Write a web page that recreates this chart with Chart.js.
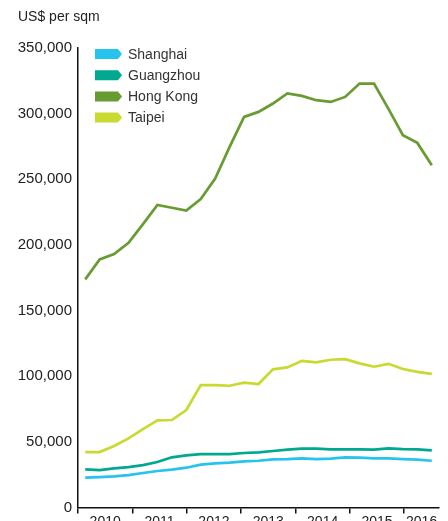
<!DOCTYPE html>
<html>
<head>
<meta charset="utf-8">
<script src="https://cdn.jsdelivr.net/npm/chart.js@4/dist/chart.umd.min.js"></script>
<style>
  html, body { margin: 0; padding: 0; background: #fff; overflow: hidden; }
  #wrap { width: 448px; height: 540px; position: relative; }
</style>
</head>
<body>
<div id="wrap"><canvas id="chart"></canvas></div>
<script>
// quarterly points, 2010 Q1 .. 2016 Q1
const quarters = [
  '2010 Q1', '2010 Q2', '2010 Q3', '2010 Q4',
  '2011 Q1', '2011 Q2', '2011 Q3', '2011 Q4',
  '2012 Q1', '2012 Q2', '2012 Q3', '2012 Q4',
  '2013 Q1', '2013 Q2', '2013 Q3', '2013 Q4',
  '2014 Q1', '2014 Q2', '2014 Q3', '2014 Q4',
  '2015 Q1', '2015 Q2', '2015 Q3', '2015 Q4',
  '2016 Q1'
];
// year boundaries (tick marks) and where each year's label sits
const yearTicks = [2010, 2011, 2012, 2013, 2014, 2015, 2016];
const yearLabels = ['2010', '2011', '2012', '2013', '2014', '2015', '2016'];
const yearLabelAt = [2010.5, 2011.5, 2012.5, 2013.5, 2014.5, 2015.5, 2016.32];

const shanghai = [22700, 23200, 23700, 24700, 26250, 27800, 28800, 30300, 32600, 33600, 34100, 35100,
  35600, 36700, 36900, 37400, 36900, 37150, 38200, 37900, 37400, 37400, 36900, 36400, 35600];
const guangzhou = [29100, 28500, 29800, 30800, 32300, 34600, 38200, 39700, 40700, 40700, 40700, 41500,
  42000, 43000, 44000, 44750, 44750, 44300, 44300, 44300, 44000, 45000, 44500, 44300, 43500];
const hongKong = [173700, 188900, 192900, 201500, 215700, 230400, 228200, 226100, 234800, 250500, 274600, 297400,
  301200, 307600, 315200, 313400, 310100, 308800, 312600, 322800, 322800, 303500, 283500, 277600, 260600];
const taipei = [42200, 42200, 46800, 52650, 59700, 66350, 66600, 74200, 93200, 93200, 92700, 95000,
  94000, 105200, 106700, 111700, 110500, 112500, 113000, 109700, 107200, 109400, 105400, 103300, 101800];

const font = "'Liberation Sans', Arial, Helvetica, sans-serif";

// small arrow-shaped swatches, drawn inside the chart area
const pennantLegend = {
  id: 'pennantLegend',
  afterDraw(chart) {
    const ctx = chart.ctx;
    ctx.save();
    ctx.font = '14px ' + font;
    ctx.textBaseline = 'middle';
    chart.data.datasets.forEach((ds, i) => {
      const x = 95, y = 54 + i * 21.2;
      ctx.fillStyle = ds.borderColor;
      ctx.beginPath();
      ctx.moveTo(x, y - 5);
      ctx.lineTo(x + 23, y - 5);
      ctx.lineTo(x + 27, y);
      ctx.lineTo(x + 23, y + 5);
      ctx.lineTo(x, y + 5);
      ctx.closePath();
      ctx.fill();
      ctx.fillStyle = '#333';
      ctx.fillText(ds.label, 128, y + 1);
    });
    ctx.restore();
  }
};

const line = (label, data, color) => ({
  label, data,
  borderColor: color,
  backgroundColor: color,
  borderWidth: 2.7,
  pointRadius: 0,
  tension: 0,
  fill: false,
  xAxisID: 'x',
  yAxisID: 'y'
});

const isBoundary = v => yearTicks.includes(v);

new Chart(document.getElementById('chart'), {
  type: 'line',
  data: {
    labels: quarters,
    datasets: [
      line('Shanghai', shanghai, '#27c3ef'),
      line('Guangzhou', guangzhou, '#00a88f'),
      line('Hong Kong', hongKong, '#689b32'),
      line('Taipei', taipei, '#c8da2f')
    ]
  },
  options: {
    responsive: true,
    maintainAspectRatio: false,
    animation: false,
    layout: { padding: { left: 18, right: 9, top: 0, bottom: 0 } },
    plugins: {
      legend: { display: false },
      tooltip: { enabled: false },
      title: {
        display: true,
        text: 'US$ per sqm',
        align: 'start',
        color: '#222',
        font: { family: font, size: 14, weight: 'normal' },
        padding: { top: 9, bottom: 22 }
      }
    },
    scales: {
      x: {
        type: 'category',
        offset: true,
        display: false
      },
      years: {
        type: 'linear',
        position: 'bottom',
        min: 2010,
        max: 2016.64,
        afterBuildTicks: s => {
          s.ticks = yearTicks.concat(yearLabelAt)
            .sort((a, b) => a - b)
            .map(v => ({ value: v }));
        },
        afterFit: s => { s.height = 32.5; },
        grid: {
          display: true,
          drawOnChartArea: false,
          drawTicks: true,
          tickLength: 6,
          lineWidth: 1.5,
          color: '#111',
          tickColor: c => (c.tick && isBoundary(c.tick.value)) ? '#111' : 'rgba(0,0,0,0)'
        },
        border: { display: true, color: '#111', width: 1.5 },
        ticks: {
          color: '#222',
          padding: 0,
          autoSkip: false,
          maxRotation: 0,
          font: { family: font, size: 14 },
          callback: v => {
            const k = yearLabelAt.indexOf(v);
            return k >= 0 ? yearLabels[k] : '';
          }
        }
      },
      y: {
        min: 0,
        max: 350000,
        afterFit: s => { s.width = 60; },
        grid: { display: false, drawTicks: false },
        border: { display: true, color: '#111', width: 1.5 },
        ticks: {
          stepSize: 50000,
          padding: 6,
          color: '#222',
          font: { family: font, size: 15 },
          callback: v => v.toLocaleString('en-US')
        }
      }
    }
  },
  plugins: [pennantLegend]
});
</script>
</body>
</html>
